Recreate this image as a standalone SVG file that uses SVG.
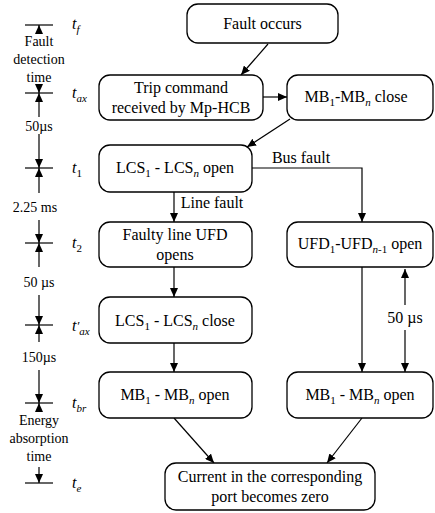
<svg xmlns="http://www.w3.org/2000/svg" width="435" height="513" viewBox="0 0 435 513" font-family="Liberation Serif, DejaVu Serif, Times New Roman, serif">
<defs>
<marker id="ah" markerUnits="userSpaceOnUse" markerWidth="9" markerHeight="8" refX="9" refY="4" orient="auto">
<path d="M0,0 L9,4 L0,8 z" fill="#000"/>
</marker>
</defs>
<style>
.box{fill:#fff;stroke:#000;stroke-width:1.3}
.t{font-size:16px;fill:#000;text-anchor:middle}
.s{font-size:14px;fill:#000;text-anchor:middle}
.tl{font-size:16px;font-style:italic;fill:#000}
.sub{font-size:11px}
.c{stroke:#000;stroke-width:1.2;fill:none}
.a{stroke:#000;stroke-width:1.2;fill:none;marker-end:url(#ah)}
</style>
<rect width="435" height="513" fill="#fff"/>

<g id="timeline">
<g class="c">
<line x1="25" y1="25" x2="53" y2="25"/>
<line x1="25" y1="93" x2="53" y2="93"/>
<line x1="25" y1="168" x2="53" y2="168"/>
<line x1="25" y1="243" x2="53" y2="243"/>
<line x1="25" y1="325" x2="53" y2="325"/>
<line x1="25" y1="403" x2="53" y2="403"/>
<line x1="25" y1="483" x2="53" y2="483"/>
</g>
<g class="a">
<line x1="39" y1="34" x2="39" y2="25"/>
<line x1="39" y1="84" x2="39" y2="93"/>
<line x1="39" y1="117" x2="39" y2="93"/>
<line x1="39" y1="134" x2="39" y2="168"/>
<line x1="39" y1="193" x2="39" y2="168"/>
<line x1="39" y1="220" x2="39" y2="243"/>
<line x1="39" y1="267" x2="39" y2="243"/>
<line x1="39" y1="295" x2="39" y2="325"/>
<line x1="39" y1="342" x2="39" y2="325"/>
<line x1="39" y1="370" x2="39" y2="403"/>
<line x1="39" y1="412" x2="39" y2="403"/>
<line x1="39" y1="467" x2="39" y2="483"/>
</g>
<text class="s" x="39" y="46">Fault</text>
<text class="s" x="39" y="64">detection</text>
<text class="s" x="39" y="82">time</text>
<text class="s" x="39" y="131">50µs</text>
<text class="s" x="35" y="212">2.25 ms</text>
<text class="s" x="39" y="287">50 µs</text>
<text class="s" x="39" y="362">150µs</text>
<text class="s" x="39" y="425">Energy</text>
<text class="s" x="39" y="443">absorption</text>
<text class="s" x="39" y="461">time</text>
<text class="tl" x="72" y="29">t<tspan class="sub" dy="4">f</tspan></text>
<text class="tl" x="72" y="98">t<tspan class="sub" dy="4">ax</tspan></text>
<text class="tl" x="72" y="173">t<tspan class="sub" dy="4" font-style="normal">1</tspan></text>
<text class="tl" x="72" y="248">t<tspan class="sub" dy="4" font-style="normal">2</tspan></text>
<text class="tl" x="72" y="331">t<tspan font-size="13px" dy="-1">′</tspan><tspan class="sub" dy="5">ax</tspan></text>
<text class="tl" x="72" y="408">t<tspan class="sub" dy="4">br</tspan></text>
<text class="tl" x="72" y="488">t<tspan class="sub" dy="4">e</tspan></text>
</g>

<g id="connectors">
<line class="a" x1="268" y1="44" x2="241" y2="75"/>
<line class="a" x1="263" y1="97" x2="287" y2="97"/>
<line class="a" x1="290" y1="119" x2="247" y2="147"/>
<polyline class="a" points="252,168 362,168 362,222"/>
<line class="a" x1="174" y1="192" x2="174" y2="222"/>
<line class="a" x1="174" y1="267" x2="174" y2="297"/>
<line class="a" x1="174" y1="343" x2="174" y2="372"/>
<line class="a" x1="362" y1="267" x2="362" y2="372"/>
<line class="a" x1="405" y1="305" x2="405" y2="269"/>
<line class="a" x1="405" y1="330" x2="405" y2="372"/>
<line class="a" x1="174" y1="418" x2="214" y2="463"/>
<line class="a" x1="362" y1="418" x2="327" y2="463"/>
<text class="t" x="301" y="163">Bus fault</text>
<text class="t" x="212" y="208">Line fault</text>
<text class="t" x="405" y="323">50 µs</text>
</g>

<g id="fault-occurs">
<rect class="box" x="187" y="4" width="151" height="39" rx="11"/>
<text class="t" x="262.5" y="29">Fault occurs</text>
</g>
<g id="trip-command">
<rect class="box" x="99" y="75" width="164" height="45" rx="11"/>
<text class="t" x="181" y="93">Trip command</text>
<text class="t" x="181" y="113">received by Mp-HCB</text>
</g>
<g id="mb-close">
<rect class="box" x="287" y="75" width="146" height="45" rx="11"/>
<text class="t" x="356" y="102">MB<tspan class="sub" dy="4">1</tspan><tspan dy="-4">-MB</tspan><tspan class="sub" dy="4" font-style="italic">n</tspan><tspan dy="-4">  close</tspan></text>
</g>
<g id="lcs-open">
<rect class="box" x="99" y="145" width="153" height="47" rx="11"/>
<text class="t" x="175" y="173">LCS<tspan class="sub" dy="4">1</tspan><tspan dy="-4"> - LCS</tspan><tspan class="sub" dy="4" font-style="italic">n</tspan><tspan dy="-4">  open</tspan></text>
</g>
<g id="faulty-line-ufd">
<rect class="box" x="99" y="222" width="153" height="45" rx="11"/>
<text class="t" x="175" y="240">Faulty line UFD</text>
<text class="t" x="175" y="260">opens</text>
</g>
<g id="ufd-open">
<rect class="box" x="287" y="222" width="146" height="45" rx="11"/>
<text class="t" x="360" y="249">UFD<tspan class="sub" dy="4">1</tspan><tspan dy="-4">-UFD</tspan><tspan class="sub" dy="4"><tspan font-style="italic">n</tspan>-1</tspan><tspan dy="-4"> open</tspan></text>
</g>
<g id="lcs-close">
<rect class="box" x="99" y="297" width="153" height="46" rx="11"/>
<text class="t" x="175" y="326">LCS<tspan class="sub" dy="4">1</tspan><tspan dy="-4"> - LCS</tspan><tspan class="sub" dy="4" font-style="italic">n</tspan><tspan dy="-4">  close</tspan></text>
</g>
<g id="mb-open-left">
<rect class="box" x="99" y="372" width="153" height="46" rx="11"/>
<text class="t" x="175" y="400">MB<tspan class="sub" dy="4">1</tspan><tspan dy="-4"> - MB</tspan><tspan class="sub" dy="4" font-style="italic">n</tspan><tspan dy="-4">  open</tspan></text>
</g>
<g id="mb-open-right">
<rect class="box" x="287" y="372" width="146" height="46" rx="11"/>
<text class="t" x="360" y="400">MB<tspan class="sub" dy="4">1</tspan><tspan dy="-4"> - MB</tspan><tspan class="sub" dy="4" font-style="italic">n</tspan><tspan dy="-4">  open</tspan></text>
</g>
<g id="current-zero">
<rect class="box" x="165" y="463" width="210" height="47" rx="11"/>
<text class="t" x="270" y="482">Current in the corresponding</text>
<text class="t" x="270" y="502">port becomes zero</text>
</g>
</svg>
